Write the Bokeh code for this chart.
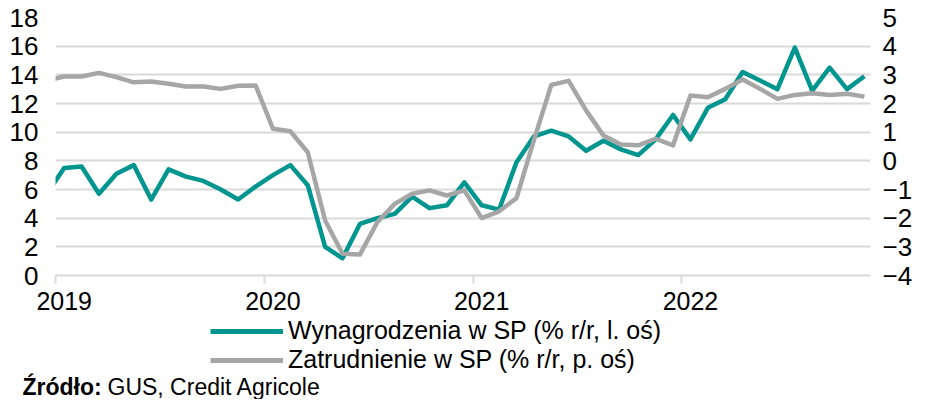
from bokeh.plotting import figure
from bokeh.layouts import column, row
from bokeh.models import (Range1d, LinearAxis, FixedTicker, Legend, LegendItem,
                          Label, ColumnDataSource)
from bokeh.embed import file_html
from bokeh.resources import INLINE

# Month index: -1 = Dec 2018, 0 = Jan 2019 ... 46 = Nov 2022 (points at mid-month)
months = list(range(-1, 47))
wages = [5.7,
         7.5, 7.6, 5.7, 7.1, 7.7, 5.3, 7.4, 6.9, 6.6, 6.0, 5.3, 6.2,
         7.0, 7.7, 6.3, 2.0, 1.2, 3.6, 4.0, 4.3, 5.5, 4.7, 4.9, 6.5,
         4.9, 4.6, 7.9, 9.7, 10.1, 9.7, 8.7, 9.4, 8.8, 8.4, 9.5, 11.2,
         9.5, 11.7, 12.3, 14.2, 13.6, 13.0, 15.9, 12.9, 14.5, 13.0, 13.9]
employment = [2.80,
              2.94, 2.94, 3.07, 2.92, 2.74, 2.77, 2.69, 2.59, 2.59, 2.51, 2.62, 2.63,
              1.12, 1.03, 0.30, -2.08, -3.24, -3.27, -2.14, -1.50, -1.15, -1.03, -1.21, -1.03,
              -2.00, -1.76, -1.30, 0.72, 2.65, 2.79, 1.76, 0.88, 0.57, 0.54, 0.77, 0.54,
              2.28, 2.22, 2.51, 2.84, 2.51, 2.16, 2.30, 2.36, 2.30, 2.34, 2.24]
year_labels = ["2019", "2020", "2021", "2022"]
year_starts = [0, 12, 24, 36]
left_ticks = list(range(0, 19, 2))
right_ticks = list(range(-4, 6))
label_wages = "Wynagrodzenia w SP (% r/r, l. oś)"
label_empl = "Zatrudnienie w SP (% r/r, p. oś)"
source_bold = "Źródło:"
source_text = "GUS, Credit Agricole"

TEAL = "#00968F"
GRAY = "#A6A6A6"
GRID = "#D9D9D9"
FONT = "Liberation Sans"
X_MAX = 46.85
W = 915
H_TOP = 316
H_BOT = 83
B_LEFT = 55
B_RIGHT = 36

src = ColumnDataSource(dict(x=[m + 0.5 for m in months], w=wages, e=employment))

# ---------------- main chart ----------------
p = figure(width=W, height=H_TOP, output_backend="svg", toolbar_location=None,
           x_range=Range1d(0, X_MAX), y_range=Range1d(0, 18),
           min_border_left=B_LEFT, min_border_right=B_RIGHT, min_border_top=17,
           min_border_bottom=H_TOP - 275, y_axis_location=None, x_axis_location=None)
p.outline_line_color = None
p.extra_y_ranges = {"r": Range1d(-4, 5)}

xax = LinearAxis(ticker=FixedTicker(ticks=[s + 0.5 for s in year_starts], minor_ticks=year_starts))
xax.major_label_overrides = {s + 0.5: lab for s, lab in zip(year_starts, year_labels)}
xax.axis_line_color = GRID
xax.axis_line_width = 2
xax.major_tick_line_color = None
xax.major_tick_out = 0
xax.major_tick_in = 0
xax.minor_tick_line_color = GRID
xax.minor_tick_line_width = 2
xax.minor_tick_out = 8
xax.minor_tick_in = 0
xax.major_label_standoff = 8
xax.major_label_text_font = FONT
xax.major_label_text_font_size = "25px"
xax.major_label_text_color = "black"
p.add_layout(xax, "below")

lax = LinearAxis(ticker=FixedTicker(ticks=left_ticks))
lax.axis_line_color = None
lax.major_tick_line_color = None
lax.minor_tick_line_color = None
lax.major_tick_out = 0
lax.major_tick_in = 0
lax.major_label_standoff = 17
lax.major_label_text_font = FONT
lax.major_label_text_font_size = "26px"
lax.major_label_text_color = "black"
p.add_layout(lax, "left")

rax = LinearAxis(y_range_name="r", ticker=FixedTicker(ticks=right_ticks))
rax.axis_line_color = None
rax.major_tick_line_color = None
rax.minor_tick_line_color = None
rax.major_tick_out = 0
rax.major_tick_in = 0
rax.major_label_standoff = 12
rax.major_label_text_font = FONT
rax.major_label_text_font_size = "26px"
rax.major_label_text_color = "black"
p.add_layout(rax, "right")

p.xgrid.visible = False
p.ygrid.ticker = FixedTicker(ticks=left_ticks)
p.ygrid.grid_line_color = GRID
p.ygrid.grid_line_width = 2

p.line("x", "w", source=src, line_color=TEAL, line_width=4.5, line_join="round")
p.line("x", "e", source=src, y_range_name="r", line_color=GRAY, line_width=4.5,
       line_join="round")

# ---------------- legend + source strip (ranges in page pixels) ----------------
q = figure(width=W, height=H_BOT, output_backend="svg", toolbar_location=None,
           x_range=Range1d(0, W), y_range=Range1d(0, H_BOT),
           min_border_left=0, min_border_right=0,
           min_border_top=0, min_border_bottom=0,
           x_axis_location=None, y_axis_location=None)
q.outline_line_color = None
q.xgrid.visible = False
q.ygrid.visible = False
nan = float("nan")
lr1 = q.line(x=[nan, nan], y=[nan, nan], line_color=TEAL, line_width=5)
lr2 = q.line(x=[nan, nan], y=[nan, nan], line_color=GRAY, line_width=5)

legend = Legend(items=[LegendItem(label=label_wages, renderers=[lr1]),
                       LegendItem(label=label_empl, renderers=[lr2])],
                location=(210, 25), orientation="vertical",
                glyph_width=73, glyph_height=28, label_height=28, label_standoff=5,
                spacing=0, padding=0, margin=0,
                border_line_color=None, background_fill_alpha=0,
                label_text_font=FONT, label_text_font_size="25px",
                label_text_color="black")
q.add_layout(legend, "center")

q.add_layout(Label(x=22, y=13, text=source_bold,
                   text_font=FONT, text_font_size="23px", text_font_style="bold",
                   text_baseline="middle", text_color="black"))
q.add_layout(Label(x=107, y=13, text=source_text,
                   text_font=FONT, text_font_size="23px",
                   text_baseline="middle", text_color="black"))

layout = column(p, row(q), spacing=0)
open("out.html", "w").write(file_html(layout, INLINE))
